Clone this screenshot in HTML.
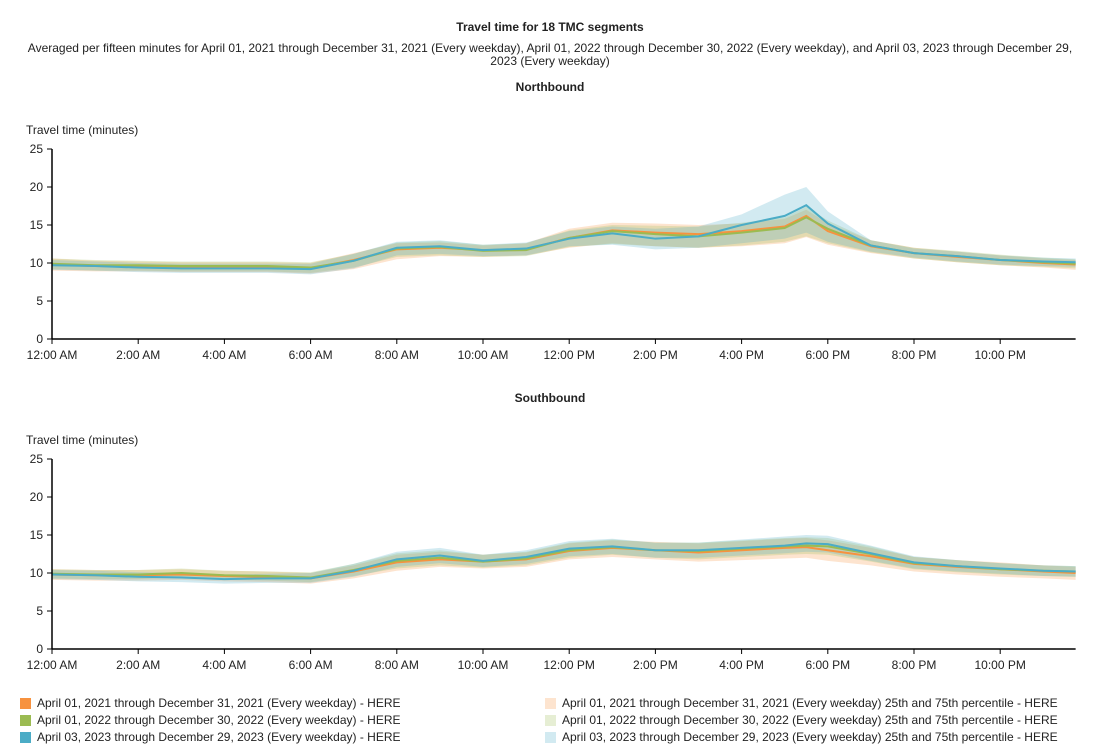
<!DOCTYPE html>
<html><head><meta charset="utf-8"><style>
body{margin:0;background:#fff;font-family:"Liberation Sans",Arial,sans-serif;}
svg text{font-family:"Liberation Sans",Arial,sans-serif;fill:#222;}
</style></head><body>
<svg id="c" width="1100" height="750">
<text x="550" y="31" font-size="12" font-weight="bold" text-anchor="middle">Travel time for 18 TMC segments</text>
<text x="550" y="52" font-size="12" text-anchor="middle">Averaged per fifteen minutes for April 01, 2021 through December 31, 2021 (Every weekday), April 01, 2022 through December 30, 2022 (Every weekday), and April 03, 2023 through December 29,</text>
<text x="550" y="65" font-size="12" text-anchor="middle">2023 (Every weekday)</text>
</svg>
<script>
const hours=[0,1,2,3,4,5,6,7,8,9,10,11,12,13,14,15,16,17,17.5,18,19,20,21,22,23,23.75];
const xTickLabels=["12:00 AM","2:00 AM","4:00 AM","6:00 AM","8:00 AM","10:00 AM","12:00 PM","2:00 PM","4:00 PM","6:00 PM","8:00 PM","10:00 PM"];
const yTicks=[0,5,10,15,20,25];
const seriesNames=["April 01, 2021 through December 31, 2021 (Every weekday)","April 01, 2022 through December 30, 2022 (Every weekday)","April 03, 2023 through December 29, 2023 (Every weekday)"];
const nb2021=[9.8,9.6,9.5,9.4,9.4,9.4,9.3,10.4,11.8,12.0,11.7,11.8,13.3,14.3,14.0,13.8,14.2,14.8,16.2,14.2,12.2,11.3,10.8,10.4,10.0,9.8];
const nb2022=[9.9,9.7,9.7,9.6,9.6,9.6,9.4,10.3,11.9,12.1,11.6,11.7,13.3,14.2,13.8,13.5,14.0,14.6,16.0,14.5,12.3,11.3,10.9,10.4,10.1,9.9];
const nb2023=[9.7,9.6,9.4,9.3,9.3,9.3,9.2,10.3,12.0,12.2,11.7,11.9,13.2,13.9,13.2,13.5,15.0,16.2,17.6,15.2,12.3,11.3,10.9,10.4,10.2,10.1];
const nbLo2021=[9.0,8.9,8.9,8.8,8.8,8.8,8.6,9.2,10.5,10.9,10.8,11.0,12.0,12.6,12.2,12.0,12.2,12.6,13.4,12.4,11.3,10.6,10.1,9.7,9.4,9.1];
const nbHi2021=[10.6,10.3,10.2,10.1,10.1,10.1,10.0,11.3,12.6,12.7,12.3,12.6,14.5,15.3,15.2,15.0,15.2,15.8,17.0,15.2,13.0,12.0,11.5,11.0,10.6,10.4];
const nbLo2022=[9.2,9.0,9.0,8.9,8.9,8.9,8.7,9.4,10.8,11.0,10.8,10.9,12.1,12.5,12.2,12.0,12.3,12.8,13.5,12.6,11.4,10.6,10.1,9.7,9.5,9.3];
const nbHi2022=[10.6,10.4,10.3,10.2,10.2,10.2,10.1,11.2,12.7,12.9,12.4,12.6,14.3,15.0,14.9,14.8,15.3,16.0,17.4,15.6,13.0,12.0,11.6,11.1,10.7,10.5];
const nbLo2023=[9.1,9.0,8.8,8.7,8.7,8.7,8.5,9.3,11.0,11.2,10.9,11.0,12.2,12.4,11.8,12.0,12.6,13.2,14.0,12.8,11.5,10.7,10.2,9.8,9.6,9.5];
const nbHi2023=[10.4,10.2,10.0,9.9,9.9,9.9,9.9,11.2,12.8,13.0,12.4,12.7,14.2,14.8,14.5,14.8,16.4,19.0,20.0,16.8,13.0,11.9,11.5,11.0,10.7,10.6];
const sb2021=[9.8,9.7,9.7,9.8,9.6,9.5,9.3,10.2,11.4,11.8,11.5,11.8,12.9,13.3,13.0,12.7,13.0,13.3,13.4,13.0,12.2,11.2,10.8,10.5,10.2,10.0];
const sb2022=[9.9,9.8,9.8,10.0,9.7,9.6,9.4,10.4,11.6,12.0,11.5,11.9,13.0,13.4,13.0,12.9,13.2,13.5,13.6,13.5,12.5,11.3,10.9,10.5,10.3,10.2];
const sb2023=[9.8,9.7,9.5,9.4,9.2,9.3,9.3,10.3,11.8,12.3,11.6,12.1,13.2,13.5,13.0,13.0,13.3,13.6,13.9,13.8,12.6,11.4,10.9,10.6,10.3,10.2];
const sbLo2021=[9.1,9.0,9.0,9.1,8.9,8.8,8.6,9.3,10.3,10.8,10.6,10.8,11.8,12.1,11.8,11.5,11.7,11.9,12.0,11.6,11.0,10.2,9.8,9.5,9.3,9.1];
const sbHi2021=[10.5,10.4,10.4,10.5,10.3,10.2,10.0,11.0,12.4,12.8,12.4,12.7,13.9,14.3,14.1,13.9,14.2,14.5,14.6,14.3,13.3,12.1,11.7,11.4,11.0,10.8];
const sbLo2022=[9.3,9.2,9.2,9.4,9.1,9.0,8.8,9.6,10.6,11.0,10.7,11.0,12.0,12.4,12.0,11.8,12.1,12.4,12.5,12.4,11.5,10.5,10.1,9.8,9.6,9.5];
const sbHi2022=[10.5,10.4,10.4,10.6,10.3,10.2,10.1,11.2,12.6,13.0,12.4,12.8,14.0,14.4,14.0,14.0,14.3,14.6,14.7,14.6,13.5,12.1,11.7,11.3,11.0,10.9];
const sbLo2023=[9.2,9.1,8.9,8.8,8.6,8.7,8.7,9.5,10.8,11.3,10.8,11.2,12.2,12.5,12.0,12.0,12.3,12.6,12.8,12.7,11.6,10.6,10.2,9.9,9.6,9.5];
const sbHi2023=[10.4,10.3,10.1,10.0,9.8,9.9,10.0,11.2,12.8,13.3,12.4,13.0,14.2,14.5,14.0,14.0,14.4,14.8,15.0,14.9,13.6,12.2,11.7,11.3,11.0,10.9];

const NS="http://www.w3.org/2000/svg";
const svg=document.getElementById('c');
const colors=["#f7923f","#9bbb52","#4bacc6"];
const X0=52, PX_PER_H=43.1;
function xs(h){return X0+h*PX_PER_H;}
function mk(tag,attrs,parent){const e=document.createElementNS(NS,tag);for(const k in attrs)e.setAttribute(k,attrs[k]);(parent||svg).appendChild(e);return e;}

function panel(title,yTop,yBot,titleY,lines,los,his,key){
  const ys=v=>yBot-(v/25)*(yBot-yTop);
  const g=mk('g',{});
  
  
  const t=mk('text',{x:550,y:titleY,'font-size':12,'font-weight':'bold','text-anchor':'middle'},g);t.textContent=title;
  
  
  const yt=mk('text',{x:26,y:yTop-15,'font-size':12},g);yt.textContent="Travel time (minutes)";
  
  
  for(let i=0;i<3;i++){
    let d="";hours.forEach((h,j)=>{d+=(j?"L":"M")+xs(h)+","+ys(his[i][j]);});
    for(let j=hours.length-1;j>=0;j--)d+="L"+xs(hours[j])+","+ys(los[i][j]);
    const b=mk('path',{d:d+"Z",fill:colors[i],'fill-opacity':0.25,stroke:'none'},g);
    
    
  }
  for(let i=0;i<3;i++){
    let d="";hours.forEach((h,j)=>{d+=(j?"L":"M")+xs(h)+","+ys(lines[i][j]);});
    const l=mk('path',{d:d,fill:'none',stroke:colors[i],'stroke-width':2},g);
    
    
  }
  mk('line',{x1:X0,y1:yTop,x2:X0,y2:yBot,stroke:'#000','stroke-width':1.5},g);
  mk('line',{x1:X0,y1:yBot,x2:xs(23.75),y2:yBot,stroke:'#000','stroke-width':1.5},g);
  yTicks.forEach(v=>{
    mk('line',{x1:X0-5,y1:ys(v),x2:X0,y2:ys(v),stroke:'#000'},g);
    const tt=mk('text',{x:X0-9,y:ys(v)+4,'font-size':12,'text-anchor':'end'},g);tt.textContent=v;
    
    
  });
  xTickLabels.forEach((lab,i)=>{
    const x=xs(i*2);
    mk('line',{x1:x,y1:yBot,x2:x,y2:yBot+5,stroke:'#000'},g);
    const tt=mk('text',{x:x,y:yBot+20,'font-size':12,'text-anchor':'middle'},g);tt.textContent=lab;
    
    
  });
}
panel("Northbound",149,339,91,[nb2021,nb2022,nb2023],[nbLo2021,nbLo2022,nbLo2023],[nbHi2021,nbHi2022,nbHi2023],'northbound');
panel("Southbound",459,649,402,[sb2021,sb2022,sb2023],[sbLo2021,sbLo2022,sbLo2023],[sbHi2021,sbHi2022,sbHi2023],'southbound');

for(let i=0;i<3;i++){
  const y=703+i*17;
  const r=mk('rect',{x:20,y:y-5,width:11,height:11,fill:colors[i]});
  
  
  const t=mk('text',{x:37,y:y+4,'font-size':12});t.textContent=seriesNames[i]+" - HERE";
  
  
  const r2=mk('rect',{x:545,y:y-5,width:11,height:11,fill:colors[i],'fill-opacity':0.25});
  
  
  const t2=mk('text',{x:562,y:y+4,'font-size':12});t2.textContent=seriesNames[i]+" 25th and 75th percentile - HERE";
  
  
}
</script>
</body></html>
